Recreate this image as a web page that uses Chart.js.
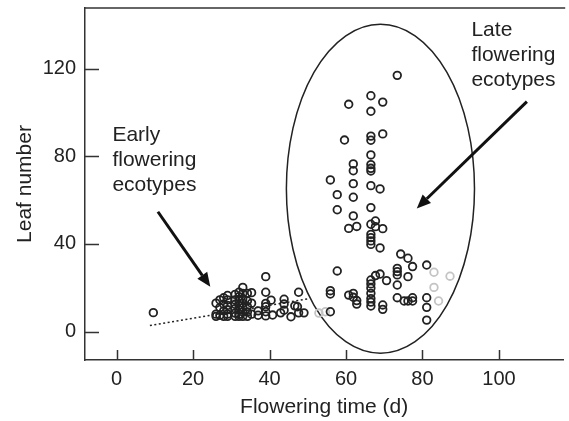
<!DOCTYPE html>
<html><head><meta charset="utf-8">
<script src="https://cdn.jsdelivr.net/npm/chart.js@4.4.1/dist/chart.umd.min.js"></script>
<style>html,body{margin:0;padding:0;background:#fff;}</style>
</head><body>
<canvas id="c" width="569" height="421"></canvas>
<script>
// ---- data ----
const xTicks = [0, 20, 40, 60, 80, 100];
const yTicks = [0, 40, 80, 120];

// early flowering ecotypes cluster
const earlyX = [9.6,
  26.0,26.0,26.0,
  27.0,27.0,27.0,
  28.0,28.0,28.0,28.0,
  29.0,29.0,29.0,29.0,29.0,29.0,
  31.0,31.0,31.0,31.0,31.0,31.0,
  32.0,32.0,32.0,32.0,32.0,32.0,32.0,
  33.0,33.0,33.0,33.0,33.0,33.0,33.0,
  34.2,34.2,34.2,34.2,34.2,
  35.3,35.3,35.3,
  37.0,37.0,
  39.0,39.0,39.0,39.0,39.0,39.0,
  40.4,40.8,42.9,43.8,43.8,43.8,45.6,46.6,47.3,47.6,47.6,49.0];
const earlyY = [8.7,
  13.0,8.0,7.0,
  14.5,11.0,7.5,
  15.5,12.5,9.5,7.0,
  16.5,14.5,12.0,10.0,8.0,7.0,
  17.0,14.5,12.5,10.5,8.5,7.0,
  18.0,16.0,14.0,12.0,10.0,8.0,7.0,
  20.2,17.5,15.0,13.0,11.0,9.0,7.0,
  17.5,14.0,11.5,9.0,7.0,
  17.8,13.0,8.0,
  9.5,7.5,
  25.1,18.0,12.9,11.4,9.1,7.2,
  14.4,7.6,8.6,14.8,12.6,9.8,6.8,11.8,11.4,18.0,8.6,8.6];

// late flowering ecotypes
const lateX = [73.4,66.5,69.6,60.7,66.5,59.6,66.5,66.5,69.6,66.5,66.5,66.5,66.5,
  61.9,61.9,61.9,61.9,55.9,57.7,57.7,66.5,68.9,66.5,61.9,60.7,62.8,66.5,67.7,67.7,
  69.6,66.5,66.5,66.5,66.5,68.9,57.7,74.3,76.2,77.4,73.4,73.4,73.4,76.2,73.4,81.1,
  67.7,68.9,70.6,66.5,66.5,66.5,66.5,66.5,66.5,66.5,69.6,69.6,73.4,75.2,76.2,77.4,
  77.4,81.1,81.1,81.1,55.9,55.9,55.9,60.7,61.9,61.9,62.8,62.8];
const lateY = [116.9,107.6,104.7,103.7,100.5,87.4,89.2,87.3,90.2,80.6,76.2,74.5,73.3,
  76.5,73.4,67.5,61.3,69.2,62.5,55.6,66.6,65.1,56.6,52.8,47.1,48.0,49.0,50.5,47.9,
  47.0,44.4,42.9,41.4,39.8,38.2,27.7,35.4,33.5,29.7,28.9,27.4,25.9,25.1,21.3,30.4,
  25.6,26.3,23.3,23.6,21.8,19.9,17.5,15.1,13.5,11.7,12.2,10.2,15.5,14.0,14.0,15.5,
  14.0,15.5,11.1,5.3,18.7,17.2,9.1,16.7,17.5,15.7,14.2,12.6];

// faint (grey) points
const greyX = [52.9, 54.6, 83.0, 87.2, 83.0, 84.2];
const greyY = [8.5, 9.1, 27.1, 25.3, 20.2, 14.0];

// dotted trend line end points
const fitX = [8.7, 50.0];
const fitY = [2.8, 15.0];

// annotations (data coordinates)
const ellipseCenter = [69.0, 65.2];
const ellipseRadii = [24.6, 75.0];
const arrowEarly = [[10.8, 54.7], [24.5, 20.5]];
const arrowLate = [[107.3, 104.9], [78.5, 56.2]];
const textEarly = ['Early', 'flowering', 'ecotypes'];
const textLate = ['Late', 'flowering', 'ecotypes'];
const textEarlyAt = [-1.1, 89.7];
const textLateAt = [92.8, 137.6];

const toPts = (xs, ys) => xs.map((x, i) => ({x, y: ys[i]}));

const INK = '#222222';
const AXIS = '#333333';
const FONT = "'Liberation Sans', Arial, sans-serif";

const decor = {
  id: 'decor',
  beforeDatasetsDraw(chart) {
    const {ctx, scales: {x, y}} = chart;
    const cx = x.getPixelForValue(ellipseCenter[0]);
    const cy = y.getPixelForValue(ellipseCenter[1]);
    const rx = Math.abs(x.getPixelForValue(ellipseCenter[0] + ellipseRadii[0]) - cx);
    const ry = Math.abs(y.getPixelForValue(ellipseCenter[1] + ellipseRadii[1]) - cy);
    ctx.save();
    ctx.strokeStyle = INK; ctx.lineWidth = 1.5;
    ctx.beginPath(); ctx.ellipse(cx, cy, rx, ry, 0, 0, Math.PI * 2); ctx.stroke();
    ctx.restore();
  },
  afterDatasetsDraw(chart) {
    const {ctx, chartArea: a, scales: {x, y}} = chart;
    ctx.save();
    // top frame line
    ctx.strokeStyle = AXIS; ctx.lineWidth = 1.5;
    ctx.beginPath(); ctx.moveTo(a.left, a.top); ctx.lineTo(a.right + 2, a.top); ctx.stroke();
    // inward ticks
    ctx.beginPath();
    xTicks.forEach(v => { const px = Math.round(x.getPixelForValue(v)) + 0.5; ctx.moveTo(px, a.bottom); ctx.lineTo(px, a.bottom - 10); });
    yTicks.forEach(v => { const py = Math.round(y.getPixelForValue(v)) + 0.5; ctx.moveTo(a.left, py); ctx.lineTo(a.left + 14, py); });
    ctx.stroke();
    // arrows
    const arrow = (p) => {
      const x1 = x.getPixelForValue(p[0][0]), y1 = y.getPixelForValue(p[0][1]);
      const x2 = x.getPixelForValue(p[1][0]), y2 = y.getPixelForValue(p[1][1]);
      const ang = Math.atan2(y2 - y1, x2 - x1);
      const hl = 14, hw = 6;
      const bx = x2 - hl * Math.cos(ang), by = y2 - hl * Math.sin(ang);
      ctx.strokeStyle = '#111'; ctx.fillStyle = '#111'; ctx.lineWidth = 3;
      ctx.beginPath(); ctx.moveTo(x1, y1); ctx.lineTo(bx, by); ctx.stroke();
      ctx.beginPath();
      ctx.moveTo(x2, y2);
      ctx.lineTo(bx + hw * Math.sin(ang), by - hw * Math.cos(ang));
      ctx.lineTo(bx - hw * Math.sin(ang), by + hw * Math.cos(ang));
      ctx.closePath(); ctx.fill();
    };
    arrow(arrowEarly); arrow(arrowLate);
    // text
    ctx.fillStyle = INK; ctx.font = '21px ' + FONT;
    ctx.textAlign = 'left'; ctx.textBaseline = 'middle';
    const block = (lines, at) => {
      const px = x.getPixelForValue(at[0]), py = y.getPixelForValue(at[1]);
      lines.forEach((t, i) => ctx.fillText(t, px, py + i * 25));
    };
    block(textEarly, textEarlyAt); block(textLate, textLateAt);
    ctx.restore();
  }
};

new Chart(document.getElementById('c'), {
  type: 'scatter',
  data: {
    datasets: [
      { data: toPts(earlyX, earlyY).concat(toPts(lateX, lateY)), pointRadius: 3.8, pointBorderWidth: 1.8,
        pointBorderColor: INK, pointBackgroundColor: 'rgba(0,0,0,0)', showLine: false },
      { type: 'line', data: toPts(fitX, fitY), borderColor: INK, borderWidth: 1.5, borderDash: [2, 2.5],
        pointRadius: 0, fill: false },
      { data: toPts(greyX, greyY), pointRadius: 3.8, pointBorderWidth: 1.8,
        pointBorderColor: '#c4c4c4', pointBackgroundColor: 'rgba(0,0,0,0)', showLine: false }
    ]
  },
  options: {
    responsive: false, animation: false, devicePixelRatio: 1,
    layout: { padding: { top: 8, right: 0, left: 0, bottom: 0 } },
    plugins: { legend: { display: false }, tooltip: { enabled: false } },
    scales: {
      x: {
        type: 'linear', min: -8.27, max: 116.8,
        afterBuildTicks: s => { s.ticks = xTicks.map(v => ({value: v})); },
        afterFit: s => { s.height = 61; s.paddingLeft = 0; s.paddingRight = 0; },
        grid: { display: false, drawTicks: false },
        border: { display: true, color: AXIS, width: 1.5 },
        ticks: { color: INK, font: { family: FONT, size: 20 }, padding: 7, maxRotation: 0, autoSkip: false },
        title: { display: true, text: 'Flowering time (d)', color: INK, font: { family: FONT, size: 21 }, padding: { top: 0, bottom: 1 } }
      },
      y: {
        type: 'linear', min: -12.9, max: 147.6,
        afterBuildTicks: s => { s.ticks = yTicks.map(v => ({value: v})); },
        afterFit: s => { s.width = 85; s.paddingTop = 0; s.paddingBottom = 0; },
        grid: { display: false, drawTicks: false },
        border: { display: true, color: AXIS, width: 1.5 },
        ticks: { color: INK, font: { family: FONT, size: 20 }, padding: 9, autoSkip: false },
        title: { display: true, text: 'Leaf number', color: INK, font: { family: FONT, size: 21 }, padding: { top: 13, bottom: 0 } }
      }
    }
  },
  plugins: [decor]
});
</script>
</body></html>
